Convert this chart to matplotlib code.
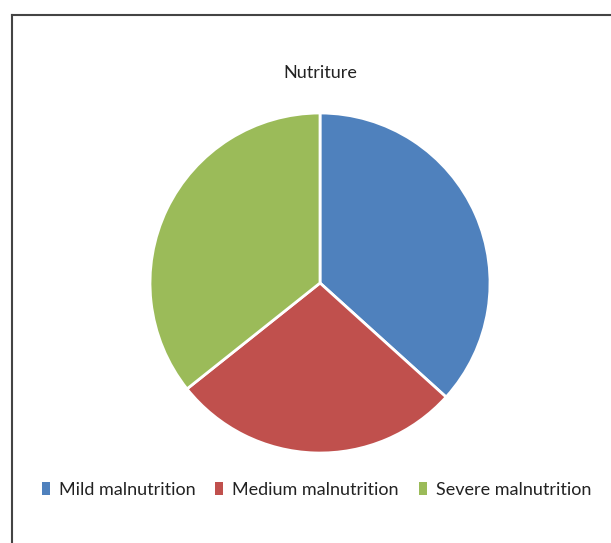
import matplotlib
matplotlib.use("Agg")
import matplotlib.pyplot as plt
from matplotlib.lines import Line2D
from matplotlib.patches import Patch

categories = ["Mild malnutrition", "Medium malnutrition", "Severe malnutrition"]
values = [36.7, 27.6, 35.7]
colors = ["#4F81BD", "#C0504D", "#9BBB59"]
title = "Nutriture"

plt.rcParams['font.family'] = ['Lato', 'DejaVu Sans']

fig = plt.figure(figsize=(6.11, 5.43), dpi=100)
ax = fig.add_axes([0.2455, 0.1657, 0.5565, 0.6262])
ax.pie(values, colors=colors, startangle=90, counterclock=False,
       wedgeprops=dict(edgecolor="white", linewidth=2))
ax.set_xlim(-1.0, 1.0)
ax.set_ylim(-1.0, 1.0)
ax.set_aspect("equal")

fig.text(0.524, 0.866, title, ha="center", va="center", fontsize=13, color="#222222")

handles = [Patch(facecolor=c, edgecolor="none") for c in colors]
fig.legend(handles, categories, loc="center", bbox_to_anchor=(0.518, 0.0976),
           ncol=3, frameon=False, fontsize=13, handlelength=0.45, handleheight=0.75,
           handletextpad=0.5, columnspacing=1.1, labelcolor="#222222",
           borderpad=0, borderaxespad=0)

# frame lines (left & top)
fig.add_artist(Line2D([12/611, 12/611], [0, 1-15/543], color="#444444", linewidth=1.5,
                      transform=fig.transFigure))
fig.add_artist(Line2D([12/611, 1], [1-15/543, 1-15/543], color="#444444", linewidth=1.5,
                      transform=fig.transFigure))

fig.savefig("out.png", dpi=100)
